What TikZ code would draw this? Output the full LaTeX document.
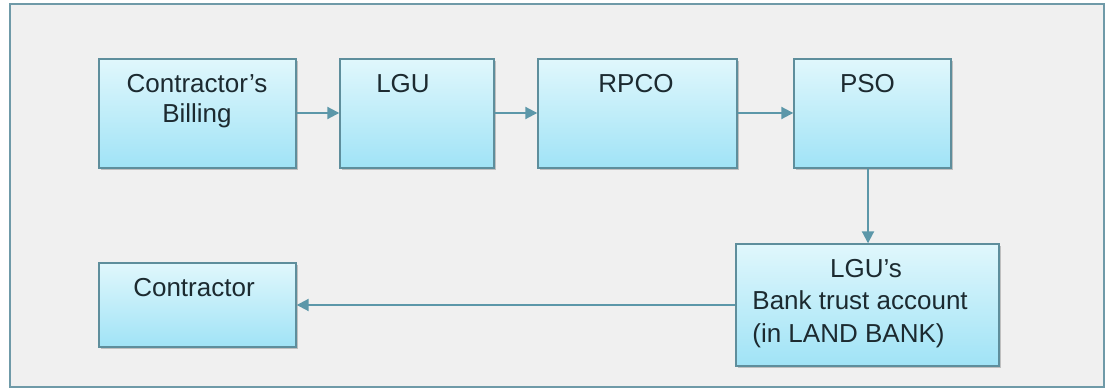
\documentclass[tikz,border=0pt]{standalone}
\usepackage{fontspec}
\setmainfont{Liberation Sans}
\usetikzlibrary{arrows.meta,shadows,shadings}
\definecolor{panelfill}{HTML}{F0F0F0}
\definecolor{panelline}{HTML}{6F9AA8}
\definecolor{boxtop}{HTML}{E0F7FC}
\definecolor{boxbottom}{HTML}{A0E3F6}
\definecolor{boxline}{HTML}{5E8E9C}
\definecolor{flowline}{HTML}{5C97A9}
\definecolor{inktext}{HTML}{1C2A30}
\tikzset{
  stagebox/.style={draw=boxline, line width=0.7pt, top color=boxtop, bottom color=boxbottom,
    inner sep=0pt,
    drop shadow={shadow xshift=1pt, shadow yshift=-1.2pt, opacity=0.35, fill=black!60}},
  stagetext/.style={anchor=base, inner sep=0pt, text=inktext, font=\fontsize{13}{16}\selectfont},
  flow/.style={draw=flowline, line width=1pt, -{Triangle[length=6pt,width=6pt]}}
}
\begin{document}
\begin{tikzpicture}[x=0.5pt,y=-0.5pt]
  \useasboundingbox (0,0) rectangle (1108,389);
  % panel behind the chart
  \draw[panelline, line width=0.8pt, fill=panelfill] (10,4) rectangle (1104,387);

  % boxes of the upper row
  \node[stagebox, minimum width=98.5pt, minimum height=54.5pt] (billing) at (197.5,113.5) {};
  \node[stagebox, minimum width=77pt, minimum height=54.5pt] (lgu) at (417,113.5) {};
  \node[stagebox, minimum width=99.5pt, minimum height=54.5pt] (rpco) at (637.5,113.5) {};
  \node[stagebox, minimum width=78.5pt, minimum height=54.5pt] (pso) at (872.5,113.5) {};
  % boxes of the lower row
  \node[stagebox, minimum width=131.5pt, minimum height=61pt] (trust) at (867.5,305) {};
  \node[stagebox, minimum width=98.5pt, minimum height=42pt] (contractor) at (197.5,305) {};

  % labels
  \node[stagetext] (t1a) at (197,93) {Contractor’s};
  \node[stagetext] (t1b) at (197,123) {Billing};
  \node[stagetext] (t2) at (403,93) {LGU};
  \node[stagetext] (t3) at (636,93) {RPCO};
  \node[stagetext] (t4) at (867.5,93) {PSO};
  \node[stagetext] (t5a) at (866,278) {LGU’s};
  \node[stagetext, anchor=base west] (t5b) at (752,310) {Bank trust account};
  \node[stagetext, anchor=base west] (t5c) at (752,343) {(in LAND BANK)};
  \node[stagetext] (t6) at (194,297) {Contractor};

  % flow between the stages
  \draw[flow] (billing.east |- 0,113) -- (lgu.west |- 0,113);
  \draw[flow] (lgu.east |- 0,113) -- (rpco.west |- 0,113);
  \draw[flow] (rpco.east |- 0,113) -- (pso.west |- 0,113);
  \draw[flow] (pso.south -| 868,0) -- (trust.north -| 868,0);
  \draw[flow] (trust.west) -- (contractor.east);
\end{tikzpicture}
\end{document}
